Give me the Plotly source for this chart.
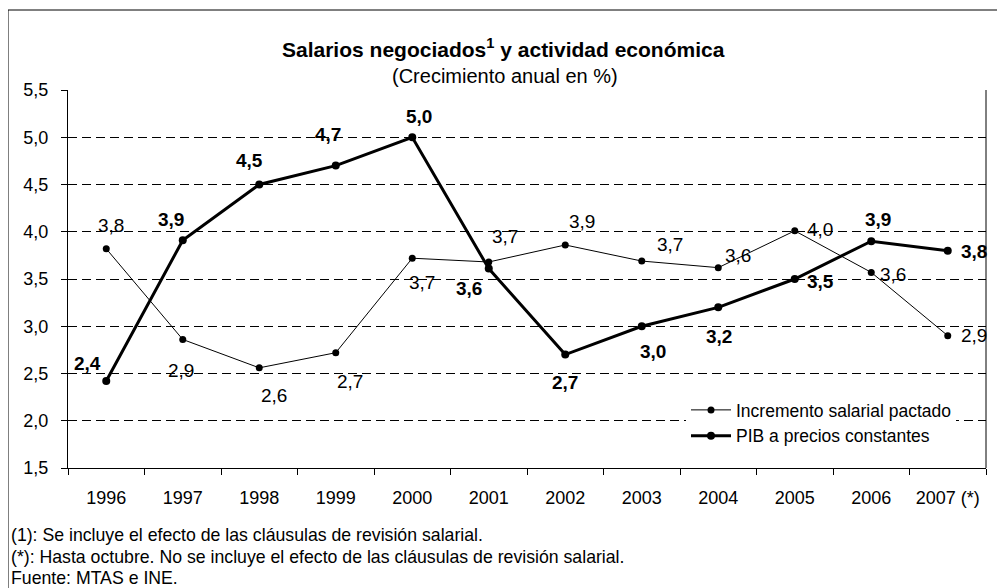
import plotly.graph_objects as go

# page body has an 8px margin, so the figure is drawn 8px inside the window
OFF = 8
W, H = 1005 - OFF, 588 - OFF

years = ["1996", "1997", "1998", "1999", "2000", "2001", "2002", "2003", "2004", "2005", "2006", "2007 (*)"]
salarios = [3.82, 2.86, 2.56, 2.72, 3.72, 3.68, 3.86, 3.69, 3.62, 4.01, 3.57, 2.90]
pib = [2.42, 3.91, 4.50, 4.70, 5.00, 3.61, 2.70, 3.00, 3.20, 3.50, 3.90, 3.80]

# label offsets in pixels (dx, dy up)
sal_off = [(5, 23), (-2, -31), (15, -28), (14, -29), (10, -24), (16, 25),
           (17, 23), (28, 17), (20, 12), (25, 1), (22, -2), (26, 0)]
pib_off = [(-19, 18), (-12, 21), (-10, 24), (-8, 31), (7, 21), (-20, -20),
           (0, -28), (11, -25), (1, -29), (26, -2), (7, 22), (26, -1)]

FONT = "Liberation Sans, Arial, sans-serif"

# plot area in window pixels
PL, PR, PT, PB = 68, 986, 90, 468

fig = go.Figure()
fig.add_trace(go.Scatter(
    x=years, y=salarios, mode="lines+markers", name="Incremento salarial pactado",
    line=dict(color="black", width=1), marker=dict(color="black", size=7),
))
fig.add_trace(go.Scatter(
    x=years, y=pib, mode="lines+markers", name="PIB a precios constantes",
    line=dict(color="black", width=3), marker=dict(color="black", size=8),
))

def fmt(v):
    return f"{v:.1f}".replace(".", ",")

ann = []
for i, (yv, (dx, dy)) in enumerate(zip(salarios, sal_off)):
    ann.append(dict(x=i, y=yv, text=fmt(yv), showarrow=False, xshift=dx, yshift=dy,
                    font=dict(family=FONT, size=19, color="black")))
for i, (yv, (dx, dy)) in enumerate(zip(pib, pib_off)):
    ann.append(dict(x=i, y=yv, text="<b>" + fmt(yv) + "</b>", showarrow=False, xshift=dx, yshift=dy,
                    font=dict(family=FONT, size=19, color="black")))

PX = lambda px: (px - PL) / (PR - PL)
PY = lambda py: (PB - py) / (PB - PT)

# title and subtitle
ann.append(dict(xref="paper", yref="paper", x=PX(503), y=PY(48),
                text="<b>Salarios negociados<sup>1</sup> y actividad económica</b>", showarrow=False,
                font=dict(family=FONT, size=21, color="black"), yanchor="middle"))
ann.append(dict(xref="paper", yref="paper", x=PX(505), y=PY(76),
                text="(Crecimiento anual en %)", showarrow=False,
                font=dict(family=FONT, size=20, color="black"), yanchor="middle"))

notes = [
    ("(1): Se incluye el efecto de las cláusulas de revisión salarial.", 535),
    ("(*): Hasta octubre. No se incluye el efecto de las cláusulas de revisión salarial.", 557),
    ("Fuente: MTAS e INE.", 578),
]
for t, py in notes:
    ann.append(dict(xref="paper", yref="paper", x=PX(9), y=PY(py),
                    text=t, showarrow=False, xanchor="left", yanchor="middle",
                    font=dict(family=FONT, size=17.7, color="black")))

fig.update_layout(
    width=W, height=H,
    margin=dict(l=PL - OFF, r=W - (PR - OFF), t=PT - OFF, b=H - (PB - OFF)),
    paper_bgcolor="white", plot_bgcolor="white",
    separators=",.",
    showlegend=True,
    legend=dict(x=PX(686), y=PY(392), xanchor="left", yanchor="top",
                bgcolor="white", borderwidth=0, font=dict(family=FONT, size=17.5, color="black"),
                tracegroupgap=0, itemwidth=40),
    annotations=ann,
    font=dict(family=FONT, color="black"),
    shapes=[
        dict(type="rect", xref="paper", yref="paper",
             x0=PX(8), x1=PX(1001), y0=PY(620), y1=PY(10),
             line=dict(color="black", width=1), layer="below"),
        dict(type="line", xref="paper", yref="paper", x0=1, x1=1, y0=0, y1=1,
             line=dict(color="black", width=1)),
    ],
)
fig.update_xaxes(
    type="category", range=[-0.5, len(years) - 0.5], autorange=False,
    showline=True, linecolor="black", linewidth=1,
    ticks="outside", ticklen=6, tickcolor="black", tickson="boundaries",
    showgrid=False, tickfont=dict(family=FONT, size=18, color="black"),
    ticklabelstandoff=13, tickangle=0,
)
fig.update_yaxes(
    range=[1.5, 5.5], autorange=False, dtick=0.5, tick0=1.5, tickformat=".1f",
    showline=True, linecolor="black", linewidth=1,
    ticks="outside", ticklen=6, tickcolor="black",
    showgrid=True, gridcolor="black", gridwidth=1, griddash="9px,5px",
    tickfont=dict(family=FONT, size=18, color="black"), zeroline=False,
    ticklabelstandoff=9,
)

fig.write_html("out.html")
